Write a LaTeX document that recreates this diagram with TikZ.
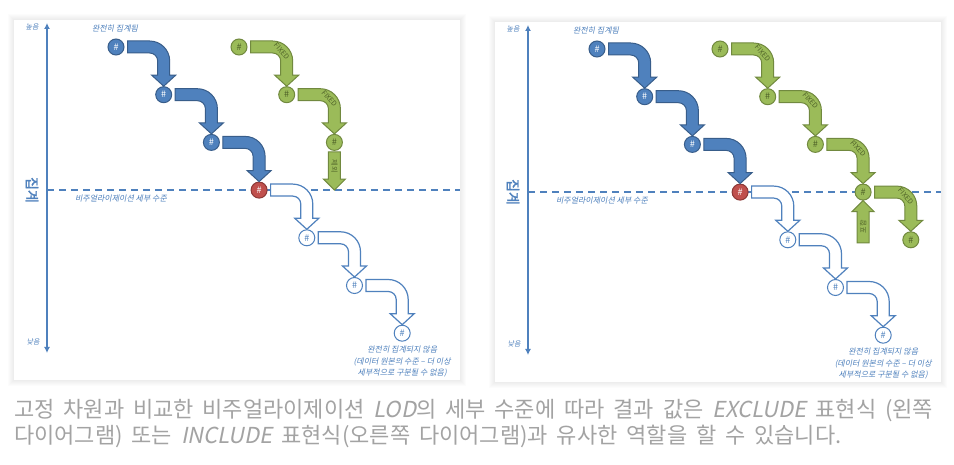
\documentclass[tikz,border=0pt]{standalone}
\usepackage{fontspec}
\setmainfont{Noto Sans CJK KR}[ItalicFont={Noto Sans CJK KR}, ItalicFeatures={FakeSlant=0.2}]
\newfontfamily\krbold{Noto Sans CJK KR}[FakeBold=2]
\newfontfamily\capfont{Noto Sans CJK KR}[WordSpace=1.8, ItalicFont={Noto Sans CJK KR}, ItalicFeatures={FakeSlant=0.2}]
\usetikzlibrary{calc, positioning, arrows.meta}

\definecolor{lodblue}{HTML}{4F81BD}
\definecolor{lodblueedge}{HTML}{385D8A}
\definecolor{lodred}{HTML}{C0504D}
\definecolor{lodrededge}{HTML}{8C3836}
\definecolor{fixgreen}{HTML}{9BBB59}
\definecolor{fixgreenedge}{HTML}{71893F}
\definecolor{fixgreendark}{HTML}{4F6228}
\definecolor{captiongray}{HTML}{A3A3A3}

\tikzset{
  dot/.style={circle, minimum size=16pt, inner sep=0pt, line width=1pt,
    font=\fontsize{9}{9}\selectfont},
  dotblue/.style={dot, fill=lodblue, draw=lodblueedge, text=white},
  dotred/.style={dot, fill=lodred, draw=lodrededge, text=white},
  dotopen/.style={dot, fill=white, draw=lodblue, text=lodblue},
  dotgreen/.style={dot, fill=fixgreen, draw=fixgreenedge, text=fixgreendark},
  bluearr/.style={fill=lodblue, draw=lodblueedge, line width=1pt},
  openarr/.style={fill=white, draw=lodblue, line width=1.2pt},
  greenarr/.style={fill=fixgreen, draw=fixgreenedge, line width=1pt},
  fixedlbl/.style={text=fixgreendark, font=\fontsize{7}{7}\selectfont, inner sep=0pt},
  note/.style={text=lodblue, font=\fontsize{8}{11.5}\selectfont\itshape, align=center},
  levelline/.style={lodblue, line width=1.6pt, dash pattern=on 7pt off 5pt},
  axisline/.style={lodblue, line width=1.6pt, {Latex[length=6pt,width=6pt]}-{Latex[length=6pt,width=6pt]}},
  caption/.style={text=captiongray, font=\capfont\fontsize{22}{26}\selectfont, inner sep=0pt, anchor=base west},
}

% bent block arrow: style, from node, to node, label on the bend
\newcommand\bendarrow[4][]{%
  \draw[#1] let \p1=($(#2.east)+(3,0)$), \p2=(#3.north) in
    (\x1,\y1+6) -- (\x2-14,\y1+6)
    arc[start angle=90, end angle=0, radius=20]
    -- (\x2+6,\y2+11) -- (\x2+12,\y2+11) -- (\x2,\y2)
    -- (\x2-12,\y2+11) -- (\x2-6,\y2+11) -- (\x2-6,\y1-14)
    arc[start angle=0, end angle=90, radius=8]
    -- (\x1,\y1-6) -- cycle
    (\x2-5,\y1-4) node[fixedlbl, rotate=-48] {#4};
}

% straight block arrow: style, tail, tip, label
\newcommand\flatarrow[4][]{%
  \draw[#1] let \p1=(#2), \p2=(#3), \n1={\y2+11*sign(\y1-\y2)} in
    (\x1-6,\y1) -- (\x1-6,\n1) -- (\x1-11,\n1) -- (\x1,\y2)
    -- (\x1+11,\n1) -- (\x1+6,\n1) -- (\x1+6,\y1) -- cycle
    ($(\p1)!0.38!(\p2)$) node[fixedlbl, rotate={90*sign(\y2-\y1)}] {#4};
}

% one panel: axis, level line, blue steps
\newcommand\lodpanel[1]{%
  \foreach \d in {1,...,6}
    \fill[black, opacity=0.012] (14-\d,84-\d) rectangle (460+\d,444+\d);
  \fill[white] (14,84) rectangle (460,444);
  \coordinate (#1top) at (47,441);
  \coordinate (#1bot) at (47,111);
  \coordinate (#1lvl) at (47,273.9);
  \coordinate (#1end) at (460,273.9);
  \draw[levelline] (#1lvl) -- (#1end);
  \draw[axisline] (#1bot) -- (#1top);
  \node[note, font=\fontsize{7}{8}\selectfont\itshape] (#1hi) at (32,437) {높음};
  \node[note, font=\fontsize{7}{8}\selectfont\itshape] (#1lo) at (33,122) {낮음};
  \node[text=lodblue, font=\fontsize{14}{14}\selectfont\krbold, rotate=-90] (#1agg) at (32,274) {집계};
  \node[note] (#1lvltxt) at (121,265) {비주얼라이제이션 세부 수준};
  \node[note] (#1full) at (115,435) {완전히 집계됨};
  \foreach \i in {0,1,2}
    \node[dotblue] (#1b\i) at (116+47.7*\i, 417-47.7*\i) {\#};
  \node[dotred] (#1r) at (116+47.7*3, 417-47.7*3) {\#};
  \foreach \i in {4,5,6}
    \node[dotopen] (#1o\i) at (116+47.7*\i, 417-47.7*\i) {\#};
  \node[note, below=1pt of #1o6] (#1none) {완전히 집계되지 않음\\(데이터 원본의 수준 – 더 이상\\세부적으로 구분될 수 없음)};
  \bendarrow[bluearr]{#1b0}{#1b1}{}
  \bendarrow[bluearr]{#1b1}{#1b2}{}
  \bendarrow[bluearr]{#1b2}{#1r}{}
  \bendarrow[openarr]{#1r}{#1o4}{}
  \bendarrow[openarr]{#1o4}{#1o5}{}
  \bendarrow[openarr]{#1o5}{#1o6}{}
}

\begin{document}
\begin{tikzpicture}[x=1pt, y=1pt]
  \useasboundingbox (0,0) rectangle (954,464);
  \fill[white] (0,0) rectangle (954,464);

  % left: EXCLUDE
  \lodpanel{L}
  \foreach \i in {0,1,2}
    \node[dotgreen] (Lg\i) at (239+47.7*\i, 417-47.7*\i) {\#};
  \bendarrow[greenarr]{Lg0}{Lg1}{FIXED}
  \bendarrow[greenarr]{Lg1}{Lg2}{FIXED}
  \coordinate (Lgx) at (334.4,273.9);
  \flatarrow[greenarr]{$(Lg2.south)+(0,-1)$}{Lgx}{제외}

  % right: INCLUDE
  \begin{scope}[shift={(481,-2)}]
    \lodpanel{R}
    \foreach \i in {0,...,4}
      \node[dotgreen] (Rg\i) at (239+47.7*\i, 417-47.7*\i) {\#};
    \bendarrow[greenarr]{Rg0}{Rg1}{FIXED}
    \bendarrow[greenarr]{Rg1}{Rg2}{FIXED}
    \bendarrow[greenarr]{Rg2}{Rg3}{FIXED}
    \bendarrow[greenarr]{Rg3}{Rg4}{FIXED}
    \coordinate (Rgy) at (382.1,223);
    \flatarrow[greenarr]{Rgy}{Rg3.south}{포함}
  \end{scope}

  \node[caption] (cap1) at (14,46) {고정 차원과 비교한 비주얼라이제이션 \textit{LOD}의 세부 수준에 따라 결과 값은 \textit{EXCLUDE} 표현식 (왼쪽};
  \node[caption] (cap2) at (14,20) {다이어그램) 또는 \textit{INCLUDE} 표현식(오른쪽 다이어그램)과 유사한 역할을 할 수 있습니다.};
\end{tikzpicture}
\end{document}
